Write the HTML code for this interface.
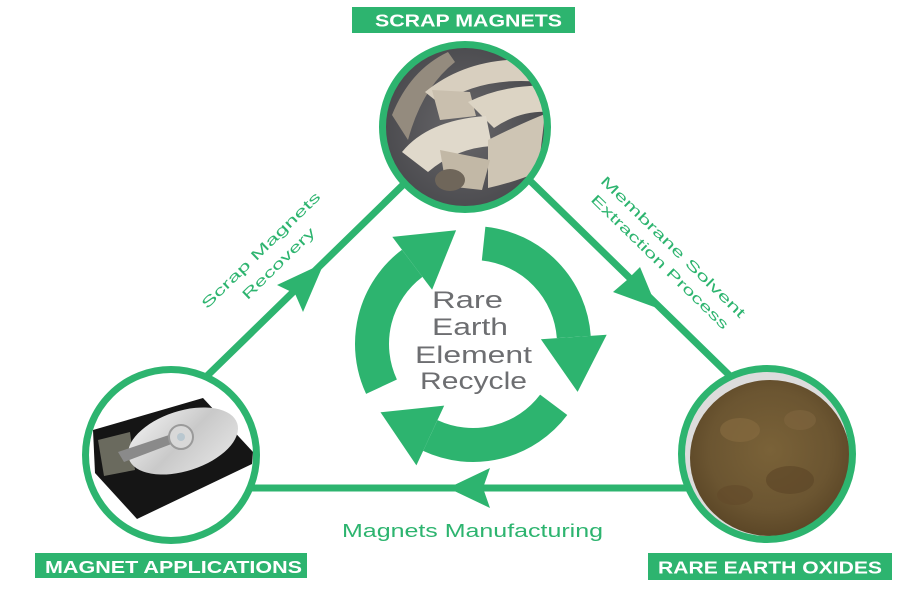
<!DOCTYPE html>
<html><head><meta charset="utf-8">
<style>
html,body{margin:0;padding:0;background:#fff;}
svg{display:block;}
</style></head><body>
<svg width="897" height="595" viewBox="0 0 897 595" xmlns="http://www.w3.org/2000/svg">
<defs>
 <clipPath id="c1"><circle cx="465" cy="127" r="81"/></clipPath>
 <clipPath id="c2"><circle cx="171" cy="455" r="84"/></clipPath>
 <clipPath id="c3"><circle cx="767" cy="454" r="84"/></clipPath>
 <radialGradient id="pw" cx="0.5" cy="0.45" r="0.55">
  <stop offset="0" stop-color="#7a6238"/>
  <stop offset="0.7" stop-color="#6b5531"/>
  <stop offset="1" stop-color="#5c4727"/>
 </radialGradient>
 <radialGradient id="bg1" cx="0.5" cy="0.5" r="0.6">
  <stop offset="0" stop-color="#68676a"/>
  <stop offset="1" stop-color="#444448"/>
 </radialGradient>
 <linearGradient id="plat" x1="0" y1="0" x2="1" y2="1">
  <stop offset="0" stop-color="#f2f2f2"/>
  <stop offset="0.5" stop-color="#c9c9c9"/>
  <stop offset="1" stop-color="#e6e6e6"/>
 </linearGradient>
</defs>

<!-- connector lines -->
<g stroke="#2db46f" stroke-width="7" fill="none">
 <line x1="440" y1="148.8" x2="200" y2="382.8"/>
 <line x1="500" y1="151.4" x2="735" y2="380.8"/>
 <line x1="200" y1="488" x2="740" y2="488"/>
</g>
<!-- line arrowheads -->
<g fill="#2db46f">
 <polygon points="324,263 303,312 295,293.6 277,285"/>
 <polygon points="657,308 613,292 627,280 640,267"/>
 <polygon points="448,488 490,468 483,488 490,508"/>
</g>

<!-- central recycle arrows -->
<g stroke="#2db46f" stroke-width="34" fill="none">
 <path d="M381.5 386.7 A101 101 0 0 1 412.2 263.3"/>
 <path d="M483.6 243.6 A101 101 0 0 1 573.8 337.0"/>
 <path d="M553.7 404.8 A101 101 0 0 1 430.3 435.5"/>
</g>
<g fill="#2db46f">
 <polygon points="392.3,236.9 432.1,289.7 456.1,230.2"/>
 <polygon points="606.7,334.7 540.9,339.3 577.6,391.9"/>
 <polygon points="416.4,465.4 444.2,405.6 380.5,412.3"/>
</g>

<!-- center text -->
<g font-family="Liberation Sans, sans-serif" font-size="24" fill="#6d6e71" text-anchor="start">
 <text x="432" y="308" textLength="71" lengthAdjust="spacingAndGlyphs">Rare</text>
 <text x="432" y="335" textLength="76" lengthAdjust="spacingAndGlyphs">Earth</text>
 <text x="415" y="363" textLength="117" lengthAdjust="spacingAndGlyphs">Element</text>
 <text x="420" y="389" textLength="107" lengthAdjust="spacingAndGlyphs">Recycle</text>
</g>

<!-- connector labels -->
<g font-family="Liberation Sans, sans-serif" font-size="14" fill="#2db46f" text-anchor="middle">
 <g transform="translate(260.7,250) rotate(-44.3)"><text x="0" y="5" textLength="160" lengthAdjust="spacingAndGlyphs">Scrap Magnets</text></g>
 <g transform="translate(278.3,263.3) rotate(-44.3)"><text x="0" y="5" textLength="96" lengthAdjust="spacingAndGlyphs">Recovery</text></g>
 <g transform="translate(673.3,246.7) rotate(44.3)"><text x="0" y="5" textLength="196" lengthAdjust="spacingAndGlyphs">Membrane Solvent</text></g>
 <g transform="translate(660,261.7) rotate(44.3)"><text x="0" y="5" textLength="186" lengthAdjust="spacingAndGlyphs">Extraction Process</text></g>
</g>
<text x="342" y="537" font-family="Liberation Sans, sans-serif" font-size="18" fill="#2db46f" textLength="261" lengthAdjust="spacingAndGlyphs">Magnets Manufacturing</text>

<!-- top circle: scrap magnets -->
<g clip-path="url(#c1)">
 <rect x="380" y="40" width="170" height="175" fill="url(#bg1)"/>
 <path d="M392 115 Q410 70 448 52 L455 62 Q422 88 408 140 Z" fill="#948b7e"/>
 <path d="M425 92 Q470 55 538 60 L542 82 Q482 76 440 104 Z" fill="#d8cfbf"/>
 <path d="M432 90 L470 92 L476 116 L440 120 Z" fill="#c9bfae"/>
 <path d="M468 102 Q505 84 548 86 L550 112 Q520 110 494 128 Z" fill="#dcd4c4"/>
 <path d="M402 152 Q428 120 486 116 L492 146 Q456 148 428 172 Z" fill="#e0d9cb"/>
 <path d="M488 140 Q520 124 545 114 L538 172 Q515 182 488 188 Z" fill="#cec5b4"/>
 <path d="M440 150 L490 160 L482 190 L446 186 Z" fill="#c2b8a6"/>
 <ellipse cx="450" cy="180" rx="15" ry="11" fill="#6f665a"/>
</g>
<circle cx="465" cy="127" r="82.5" fill="none" stroke="#2db46f" stroke-width="7"/>

<!-- bottom-left circle: hard drive -->
<circle cx="171" cy="455" r="85" fill="#fff"/>
<g clip-path="url(#c2)">
 <polygon points="93,430 203,398 253,452 252,464 137,519 95,473" fill="#151515"/>
 <polygon points="98,440 130,432 135,470 104,476" fill="#6a6a5e"/>
 <ellipse cx="183" cy="441" rx="57" ry="30" transform="rotate(-18 183 441)" fill="url(#plat)"/>
 <polygon points="118,452 178,432 182,440 124,462" fill="#8a8a8a"/>
 <circle cx="181" cy="437" r="12" fill="#d8d8d8" stroke="#9a9a9a" stroke-width="2"/>
 <circle cx="181" cy="437" r="4" fill="#b9c7cf"/>
</g>
<circle cx="171" cy="455" r="85.5" fill="none" stroke="#2db46f" stroke-width="7"/>

<!-- bottom-right circle: oxide powder -->
<circle cx="767" cy="454" r="85" fill="#dcdcdc"/>
<g clip-path="url(#c3)">
 <ellipse cx="770" cy="458" rx="80" ry="78" fill="url(#pw)"/>
 <ellipse cx="740" cy="430" rx="20" ry="12" fill="#846a3f" opacity="0.7"/>
 <ellipse cx="790" cy="480" rx="24" ry="14" fill="#5c4526" opacity="0.6"/>
 <ellipse cx="800" cy="420" rx="16" ry="10" fill="#806640" opacity="0.6"/>
 <ellipse cx="735" cy="495" rx="18" ry="10" fill="#62492a" opacity="0.6"/>
</g>
<circle cx="767" cy="454" r="85.5" fill="none" stroke="#2db46f" stroke-width="7"/>

<!-- node labels -->
<g font-family="Liberation Sans, sans-serif" font-weight="bold" font-size="17.5" fill="#fff">
 <rect x="352" y="7" width="223" height="26" fill="#2db46f"/>
 <text x="375" y="26.5" textLength="187" lengthAdjust="spacingAndGlyphs">SCRAP MAGNETS</text>
 <rect x="35" y="553" width="272" height="25" fill="#2db46f"/>
 <text x="45" y="573" textLength="257" lengthAdjust="spacingAndGlyphs">MAGNET APPLICATIONS</text>
 <rect x="648" y="553" width="244" height="27" fill="#2db46f"/>
 <text x="658" y="573.5" textLength="224" lengthAdjust="spacingAndGlyphs">RARE EARTH OXIDES</text>
</g>
</svg>
</body></html>
